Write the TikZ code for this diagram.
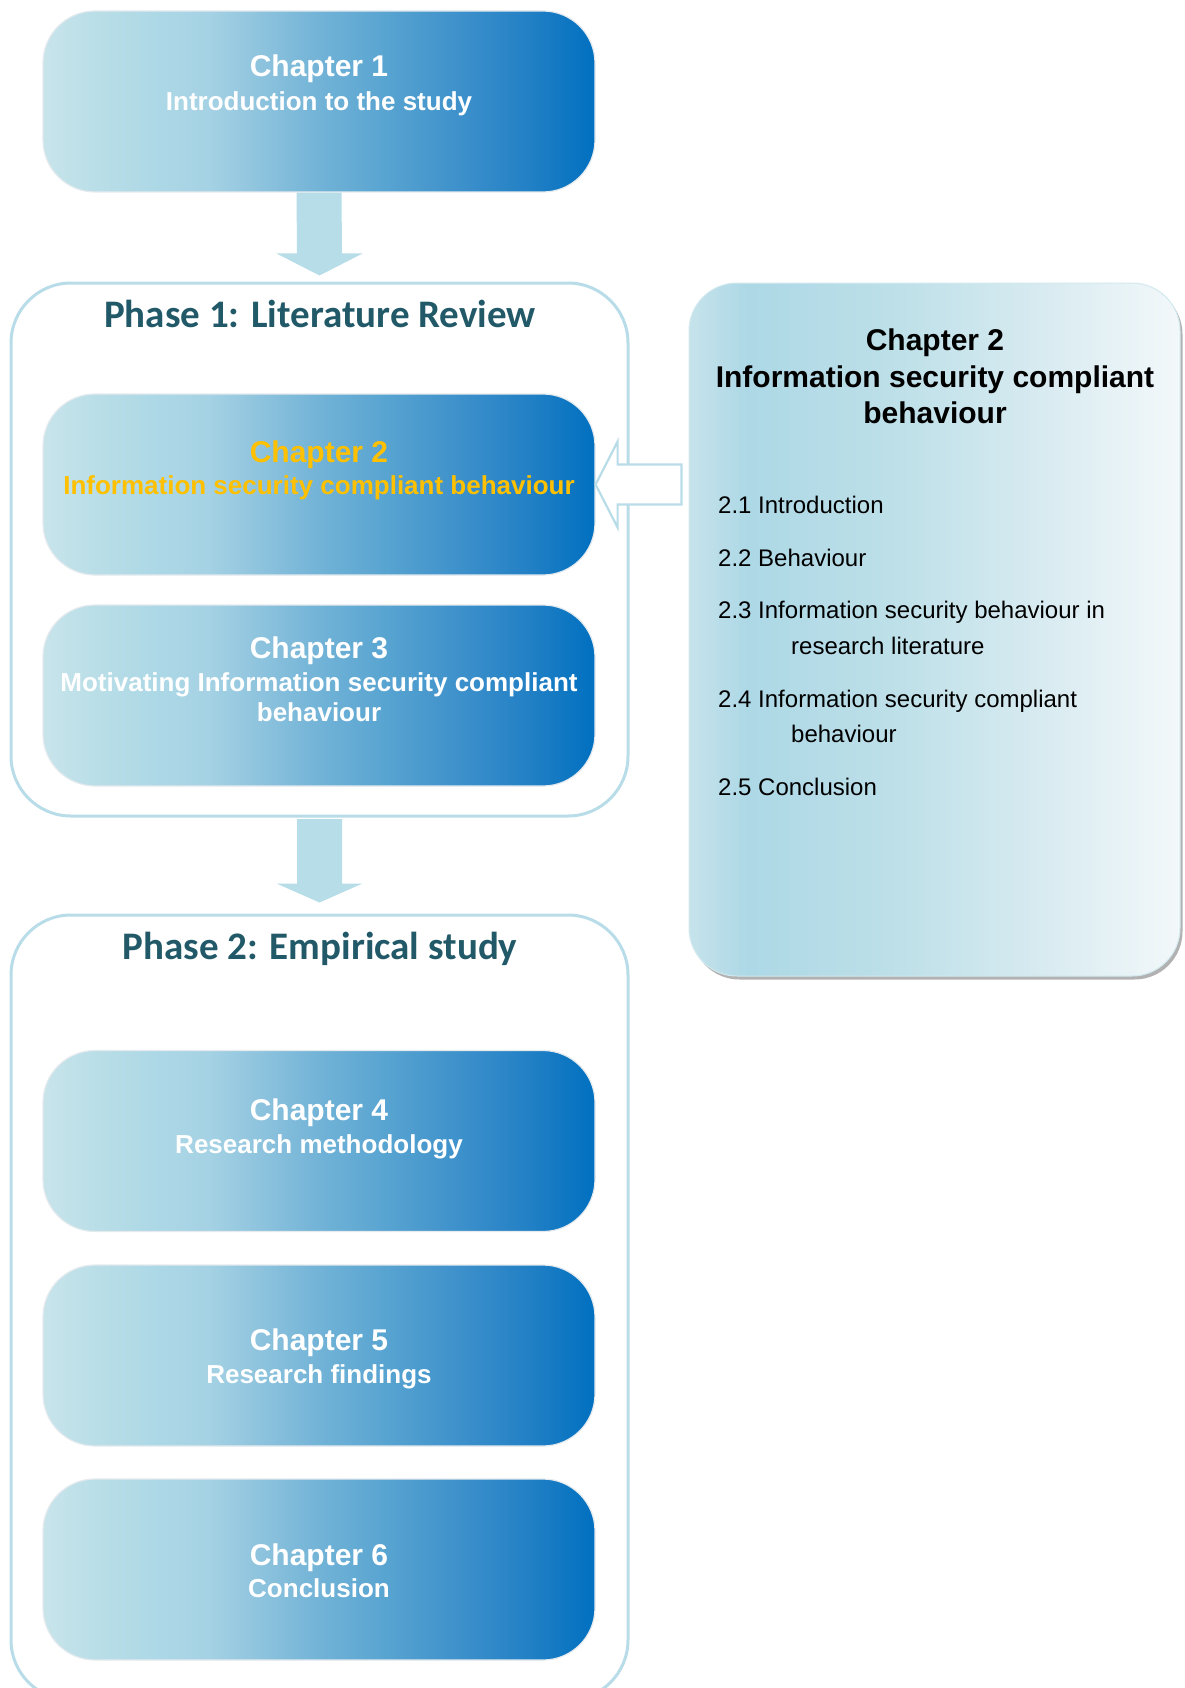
\documentclass[tikz,border=0pt]{standalone}
\usepackage{fontspec}
\setmainfont{Liberation Sans}
\newfontfamily\phasefont{Carlito}
\usetikzlibrary{calc,shadows}

% colours
\definecolor{frameblue}{HTML}{B9DDE8}
\definecolor{arrowblue}{HTML}{B7DDE8}
\definecolor{phaseteal}{HTML}{215968}
\definecolor{chapgold}{HTML}{FFC000}
\definecolor{chapedge}{HTML}{E4EAEE}
\definecolor{panedge}{HTML}{D2E9EF}
% chapter box gradient stops
\definecolor{gA}{HTML}{C8E4EB}
\definecolor{gB}{HTML}{B9DEE7}
\definecolor{gC}{HTML}{ADD8E6}
\definecolor{gD}{HTML}{A5D2E4}
\definecolor{gE}{HTML}{8CC2DD}
\definecolor{gF}{HTML}{72B3D7}
\definecolor{gG}{HTML}{58A4D1}
\definecolor{gH}{HTML}{3E91CB}
\definecolor{gJ}{HTML}{2280C5}
\definecolor{gK}{HTML}{0070C0}
% side panel gradient stops
\definecolor{sA}{HTML}{C6E3EB}
\definecolor{sB}{HTML}{ADD8E6}
\definecolor{sC}{HTML}{BCDFE8}
\definecolor{sD}{HTML}{D6EAF0}
\definecolor{sE}{HTML}{F3F8FA}

\pgfdeclarehorizontalshading{chapshade}{100bp}{color(0bp)=(gA); color(25bp)=(gA);
  color(30bp)=(gB); color(35bp)=(gC); color(40bp)=(gD); color(45bp)=(gE);
  color(50bp)=(gF); color(56bp)=(gG); color(62.5bp)=(gH); color(69bp)=(gJ);
  color(75bp)=(gK); color(100bp)=(gK)}
\pgfdeclarehorizontalshading{panelshade}{100bp}{color(0bp)=(sA); color(25bp)=(sA);
  color(31bp)=(sB); color(45bp)=(sC); color(60bp)=(sD); color(75bp)=(sE); color(100bp)=(sE)}

\begin{document}
\begin{tikzpicture}[x=1pt,y=-1pt,
  phasebox/.style={rectangle, draw=frameblue, line width=3pt, fill=white,
    rounded corners=60pt, minimum width=617pt, inner sep=0pt},
  chapbox/.style={rectangle, shade, shading=chapshade, draw=chapedge, line width=1.2pt,
    rounded corners=52pt, minimum width=552pt, minimum height=181pt, inner sep=0pt},
  sidepanel/.style={rectangle, shade, shading=panelshade, draw=panedge, line width=1pt,
    rounded corners=48pt, minimum width=491pt, minimum height=693pt, inner sep=0pt,
    drop shadow={shadow xshift=2.5pt, shadow yshift=-3.5pt, fill=black!55, opacity=0.55}},
  chaptitle/.style={anchor=base, inner sep=0pt, text=white, font=\bfseries\fontsize{30}{34}\selectfont},
  chapsub/.style={anchor=base, inner sep=0pt, text=white, font=\bfseries\fontsize{26}{30}\selectfont},
  phasetitle/.style={anchor=base, inner sep=0pt, text=phaseteal, font=\phasefont\bfseries\fontsize{39}{43}\selectfont},
  paneltitle/.style={anchor=base, inner sep=0pt, text=black, font=\bfseries\fontsize{30}{34}\selectfont},
  listitem/.style={anchor=base west, inner sep=0pt, text=black, font=\fontsize{24}{28}\selectfont},
  blockarrow/.style={fill=arrowblue},
  hollowarrow/.style={draw=frameblue, line width=2.2pt, fill=white, line join=miter}
]
\useasboundingbox (0,0) rectangle (1184,1688);
\clip (0,0) rectangle (1184,1688);
\fill[white] (0,0) rectangle (1184,1688);

% phase containers
\node[phasebox, minimum height=533pt] (p1) at (319.5,549.5) {};
\node[phasebox, minimum height=785pt] (p2) at (319.5,1307.5) {};

% chapter boxes
\node[chapbox] (c1) at (319,101.5) {};
\node[chapbox] (c2) at (319,484.5) {};
\node[chapbox] (c3) at (319,695.5) {};
\node[chapbox] (c4) at (319,1141) {};
\node[chapbox] (c5) at (319,1355.5) {};
\node[chapbox] (c6) at (319,1569.5) {};

% side panel with the contents of chapter 2
\node[sidepanel] (panel) at (934.5,629.5) {};

% block arrows between the stages
\fill[blockarrow] ($(c1.south)+(-22.5,0)$) -- ($(p1.north)+(-22.5,-28)$) -- ($(p1.north)+(-43,-28)$)
  -- ($(p1.north)+(0,-6)$) -- ($(p1.north)+(43,-28)$) -- ($(p1.north)+(22.5,-28)$)
  -- ($(c1.south)+(22.5,0)$) -- cycle;
\fill[blockarrow] ($(p1.south)+(-22.5,1.5)$) -- ($(p2.north)+(-22.5,-30)$) -- ($(p2.north)+(-43,-30)$)
  -- ($(p2.north)+(0,-11)$) -- ($(p2.north)+(43,-30)$) -- ($(p2.north)+(22.5,-30)$)
  -- ($(p1.south)+(22.5,1.5)$) -- cycle;

% outlined arrow from the panel to chapter 2
\draw[hollowarrow] (c2.east) -- ++(22,-43) -- ++(0,23)
  -- ($(panel.west |- c2.east)+(-7,-20)$) -- ++(0,40)
  -- ($(c2.east)+(22,20)$) -- ++(0,23) -- cycle;

% phase titles
\node[phasetitle] (t1) at (320,327) {Phase 1: Literature Review};
\node[phasetitle] (t2) at (320,959) {Phase 2: Empirical study};

% chapter labels
\node[chaptitle] (c1a) at (319,77) {Chapter 1};
\node[chapsub] (c1b) at (319,111) {Introduction to the study};
\node[chaptitle, text=chapgold] (c2a) at (319,462) {Chapter 2};
\node[chapsub, text=chapgold] (c2b) at (319,494) {Information security compliant behaviour};
\node[chaptitle] (c3a) at (319,658) {Chapter 3};
\node[chapsub] (c3b) at (319,691) {Motivating Information security compliant};
\node[chapsub] (c3c) at (319,721) {behaviour};
\node[chaptitle] (c4a) at (319,1120) {Chapter 4};
\node[chapsub] (c4b) at (319,1153) {Research methodology};
\node[chaptitle] (c5a) at (319,1350) {Chapter 5};
\node[chapsub] (c5b) at (319,1383) {Research findings};
\node[chaptitle] (c6a) at (319,1565) {Chapter 6};
\node[chapsub] (c6b) at (319,1597) {Conclusion};

% panel contents
\node[paneltitle] (pt1) at (935,350) {Chapter 2};
\node[paneltitle] (pt2) at (935,387) {Information security compliant};
\node[paneltitle] (pt3) at (935,423) {behaviour};
\node[listitem] (l1) at (718,513) {2.1 Introduction};
\node[listitem] (l2) at (718,566) {2.2 Behaviour};
\node[listitem] (l3) at (718,618) {2.3 Information security behaviour in};
\node[listitem] (l3b) at (791,654) {research literature};
\node[listitem] (l4) at (718,707) {2.4 Information security compliant};
\node[listitem] (l4b) at (791,742) {behaviour};
\node[listitem] (l5) at (718,795) {2.5 Conclusion};
\end{tikzpicture}
\end{document}
